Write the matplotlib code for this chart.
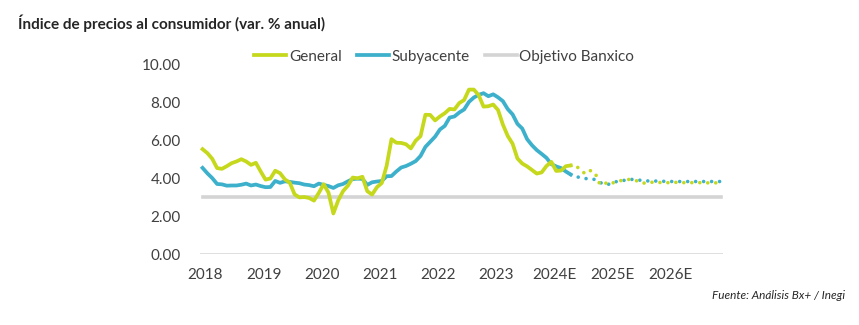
import matplotlib.pyplot as plt
import numpy as np

# INPC Mexico, var. % anual, mensual ene-2018 .. may-2024 (observado)
general = [5.55, 5.34, 5.04, 4.55, 4.51, 4.65, 4.81, 4.90, 5.02, 4.90, 4.72, 4.83,
           4.37, 3.94, 4.00, 4.41, 4.28, 3.95, 3.78, 3.16, 3.00, 3.02, 2.97, 2.83,
           3.24, 3.70, 3.25, 2.15, 2.84, 3.33, 3.62, 4.05, 4.01, 4.09, 3.33, 3.15,
           3.54, 3.76, 4.67, 6.08, 5.89, 5.88, 5.81, 5.59, 6.00, 6.24, 7.37, 7.36,
           7.07, 7.28, 7.45, 7.68, 7.65, 7.99, 8.15, 8.70, 8.70, 8.41, 7.80, 7.82,
           7.91, 7.62, 6.85, 6.25, 5.84, 5.06, 4.79, 4.64, 4.45, 4.26, 4.32, 4.66,
           4.88, 4.40, 4.42, 4.65, 4.69]
subyacente = [4.56, 4.27, 4.02, 3.71, 3.69, 3.62, 3.63, 3.63, 3.67, 3.73, 3.63, 3.68,
              3.60, 3.54, 3.55, 3.87, 3.77, 3.85, 3.82, 3.78, 3.75, 3.68, 3.65, 3.59,
              3.73, 3.66, 3.60, 3.50, 3.64, 3.71, 3.85, 3.97, 3.99, 3.98, 3.66, 3.80,
              3.84, 3.87, 4.12, 4.13, 4.37, 4.58, 4.66, 4.78, 4.92, 5.19, 5.67, 5.94,
              6.21, 6.59, 6.78, 7.22, 7.28, 7.49, 7.65, 8.05, 8.28, 8.42, 8.51, 8.35,
              8.45, 8.29, 8.09, 7.67, 7.39, 6.89, 6.64, 6.08, 5.76, 5.50, 5.30, 5.09,
              4.76, 4.64, 4.55, 4.37, 4.21]

# estimados jun-2024 .. dic-2026
general_e = [4.70, 4.45, 4.25, 4.42, 4.32, 3.70, 3.78, 3.68, 3.80, 3.88, 3.90, 3.95,
             3.92, 3.85, 3.75, 3.80, 3.80, 3.78, 3.80, 3.78, 3.78, 3.80, 3.78, 3.78,
             3.78, 3.78, 3.78, 3.77, 3.77, 3.77, 3.77]
subyacente_e = [4.10, 4.05, 4.00, 3.97, 3.95, 3.80, 3.68, 3.70, 3.80, 3.88, 3.90, 3.95,
                3.95, 3.92, 3.88, 3.87, 3.87, 3.86, 3.85, 3.85, 3.84, 3.84, 3.84, 3.84,
                3.84, 3.84, 3.84, 3.84, 3.84, 3.84, 3.84]

objetivo = 3.0
years = ["2018", "2019", "2020", "2021", "2022", "2023", "2024E", "2025E", "2026E"]

verde = "#C5D81C"
azul = "#3DB0CB"
gris = "#D4D4D4"

plt.rcParams["font.family"] = ["Lato", "DejaVu Sans"]

n_obs = len(general)
n = n_obs + len(general_e)
x_obs = np.arange(n_obs)
x_e = np.arange(n_obs - 1, n)

fig = plt.figure(figsize=(8.59, 3.25), dpi=100)
ax = fig.add_axes([0.233, 0.218, 0.609, 0.582])

ax.axhline(0, color="#D9D9D9", lw=1.2, zorder=1)
ax.plot(np.arange(n), [objetivo] * n, color=gris, lw=2.6, label="Objetivo Banxico", zorder=2)

dots = (0, (0.01, 2.2))
ax.plot(x_e, [subyacente[-1]] + subyacente_e, color=azul, lw=2.6, ls=dots,
        dash_capstyle="round", zorder=3)
ax.plot(x_e, [general[-1]] + general_e, color=verde, lw=2.6, ls=dots,
        dash_capstyle="round", zorder=3)
ax.plot(x_obs, subyacente, color=azul, lw=2.7, label="Subyacente", zorder=4,
        solid_joinstyle="round")
ax.plot(x_obs, general, color=verde, lw=2.7, label="General", zorder=4,
        solid_joinstyle="round")

ax.set_xlim(-0.5, n - 0.5)
ax.set_ylim(0, 10)
ax.set_yticks(np.arange(0, 11, 2))
ax.set_yticklabels([f"{v:.2f}" for v in np.arange(0, 11, 2)])
ax.set_xticks(np.arange(len(years)) * 12 + 0.6)
ax.set_xticklabels(years)
ax.tick_params(length=0, labelsize=11, colors="#404040")
ax.tick_params(axis="y", pad=14)
ax.tick_params(axis="x", pad=10)
for s in ax.spines.values():
    s.set_visible(False)

h, l = ax.get_legend_handles_labels()
order = [l.index("General"), l.index("Subyacente"), l.index("Objetivo Banxico")]
ax.legend([h[i] for i in order], [l[i] for i in order], ncols=3, frameon=False,
          loc="lower left", bbox_to_anchor=(0.092, 0.975), fontsize=11,
          handlelength=2.1, handletextpad=0.15, columnspacing=1.0,
          labelcolor="#404040", borderaxespad=0)

fig.text(0.021, 0.91, "Índice de precios al consumidor (var. % anual)",
         fontsize=11, fontweight="bold", color="#262626")
fig.text(0.984, 0.08, "Fuente: Análisis Bx+ / Inegi", fontsize=8.5,
         style="italic", ha="right", color="#262626")

fig.savefig("out.png", dpi=100)
